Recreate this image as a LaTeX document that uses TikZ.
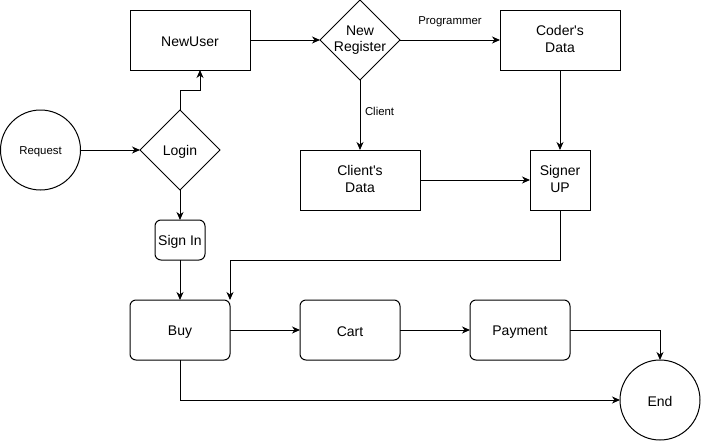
\documentclass[tikz,border=0pt]{standalone}
\usepackage{fontspec}
\setmainfont{Liberation Sans}
\usetikzlibrary{shapes.geometric,arrows.meta}
\begin{document}
\begin{tikzpicture}[x=1pt,y=-1pt,
  every node/.style={inner sep=0pt, outer sep=0pt, align=center},
  txt/.style={font=\fontsize{14}{16.5}\selectfont,
    execute at begin node={\rule{0pt}{14.5pt}},
    execute at end node={\rule[-2.5pt]{0pt}{2.5pt}}},
  small/.style={font=\fontsize{11.4}{13}\selectfont,
    execute at begin node={\rule{0pt}{11.8pt}},
    execute at end node={\rule[-2pt]{0pt}{2pt}}},
  box/.style={draw, line width=1pt, rectangle, txt},
  rbox/.style={box, rounded corners=6pt},
  dia/.style={draw, line width=1pt, diamond, minimum width=80pt, minimum height=80pt},
  circ/.style={draw, line width=1pt, circle, minimum size=80pt},
  arr/.style={draw, line width=1pt, -{Stealth[length=8pt,width=7pt,inset=2.5pt]}},
  line join=miter
]
\useasboundingbox (0,0) rectangle (701,442);

% nodes
\node[circ, small] (req) at (40.5,150) {Request};
\node[dia] (login) at (180,150) {};
\node[txt] (logintxt) at (login.center) {Login};
\node[box, minimum width=120pt, minimum height=60pt] (newuser) at (190,40) {NewUser};
\node[dia] (newreg) at (360,40) {};
\node[txt] (newregtxt) at (newreg.center) {New\\Register};
\node[box, minimum width=120pt, minimum height=60pt] (coder) at (560,40) {Coder\textquotesingle s\\Data};
\node[box, minimum width=120pt, minimum height=60pt] (client) at (360,180) {Client\textquotesingle s\\Data};
\node[box, minimum width=60pt, minimum height=60pt] (signer) at (560,180) {Signer\\UP};
\node[rbox, minimum width=50pt, minimum height=40pt] (signin) at (180,240) {Sign In};
\node[rbox, minimum width=100pt, minimum height=60pt] (buy) at (180,330) {Buy};
\node[rbox, minimum width=100pt, minimum height=60pt] (cart) at (350,330) {Cart};
\node[rbox, minimum width=100pt, minimum height=60pt] (pay) at (520,330) {Payment};
\node[circ, txt] (endc) at (660,400) {End};

% connectors
\draw[arr] (req) -- (login);
\draw[arr] (login.north) -- ++(0,-20) -| ([xshift=10pt]newuser.south);
\draw[arr] (newuser) -- (newreg);
\draw[arr] (newreg) -- node[midway, yshift=20pt, small] (proglbl) {Programmer} (coder);
\draw[arr] (newreg.south) -- node[pos=0.43, anchor=west, xshift=5pt, small] (clientlbl) {Client} (client.north);
\draw[arr] (coder) -- (signer);
\draw[arr] (client) -- (signer);
\draw[arr] (signer.south) -- ++(0,50) -| ([xshift=50pt]buy.north);
\draw[arr] (login.south) -- (signin.north);
\draw[arr] (signin.south) -- (buy.north);
\draw[arr] (buy) -- (cart);
\draw[arr] (cart) -- (pay);
\draw[arr] (pay.east) -| (endc.north);
\draw[arr] (buy.south) |- (endc.west);
\end{tikzpicture}
\end{document}
